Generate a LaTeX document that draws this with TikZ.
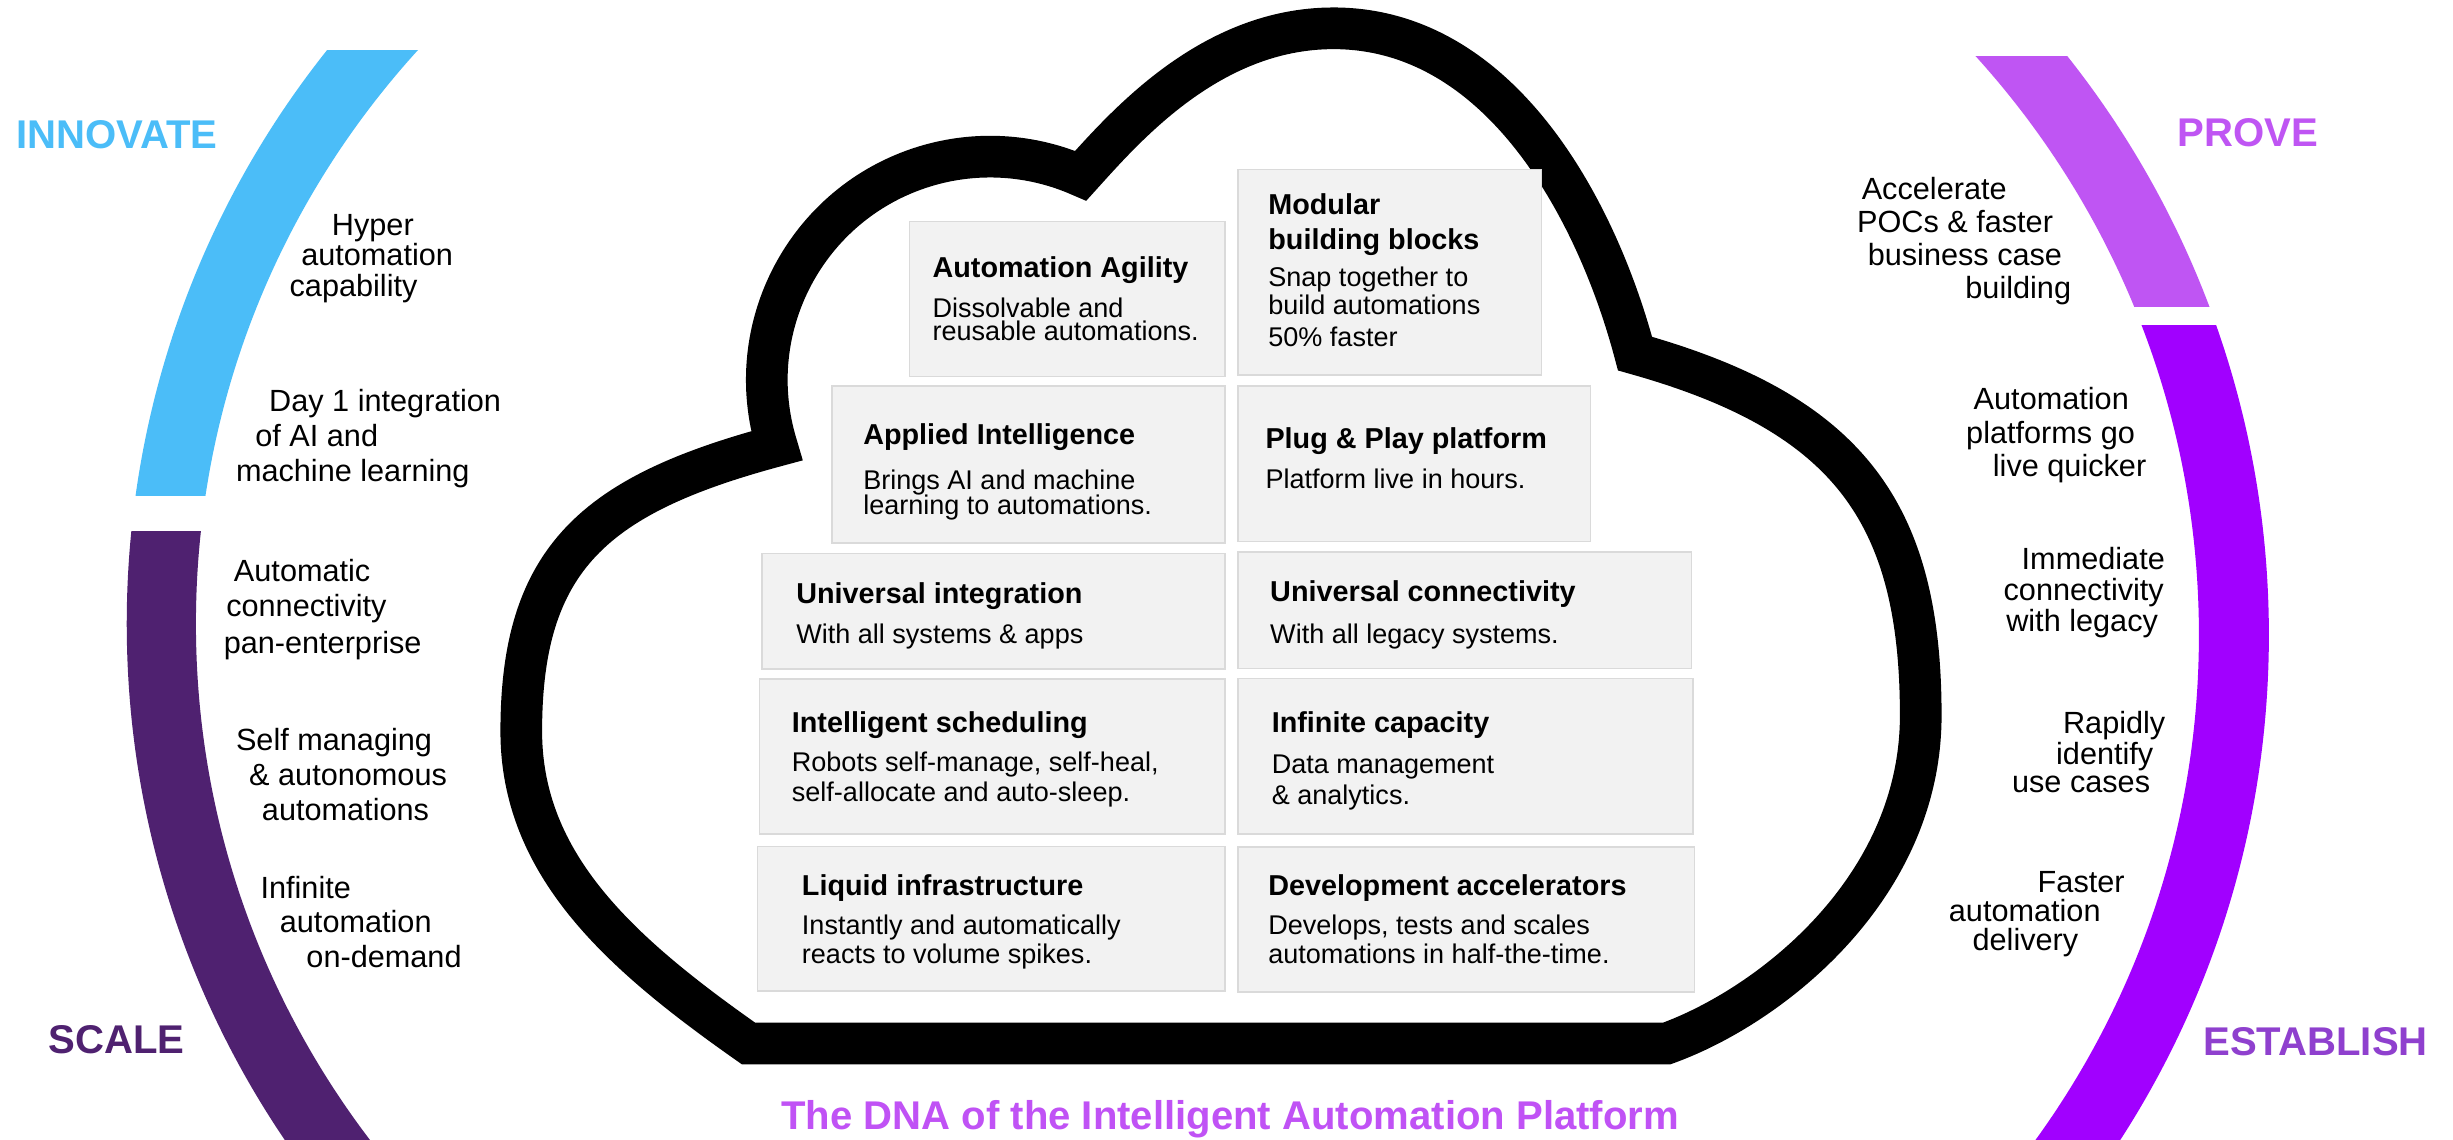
\documentclass[tikz,border=0pt]{standalone}
\usepackage{fontspec}
\setmainfont{Liberation Sans}
\definecolor{innoblue}{HTML}{4BBDF8}
\definecolor{scalepurple}{HTML}{4F2170}
\definecolor{provepurple}{HTML}{BF55F3}
\definecolor{estband}{HTML}{A100FF}
\definecolor{estlabel}{HTML}{8F40CE}
\definecolor{titlepurple}{HTML}{C052F5}
\definecolor{cardfill}{HTML}{F2F2F2}
\definecolor{cardline}{HTML}{DADADA}
\tikzset{
  sidetxt/.style={anchor=base west, inner sep=0pt, font=\fontsize{19.5}{22}\selectfont},
  boxtitle/.style={anchor=base west, inner sep=0pt, font=\bfseries\fontsize{18.3}{20}\selectfont},
  boxbody/.style={anchor=base west, inner sep=0pt, font=\fontsize{17.2}{19}\selectfont},
  stage/.style={anchor=base west, inner sep=0pt, font=\bfseries\fontsize{25.5}{28}\selectfont},
  card/.style={draw=cardline, fill=cardfill, line width=1pt, anchor=north west, inner sep=0pt},
  cloudline/.style={draw=black, line width=26.5pt, line join=miter, miter limit=10},
}
\begin{document}
\begin{tikzpicture}[x=1pt,y=-1pt]
\useasboundingbox (0,0) rectangle (1560,724.36);
\fill[white] (0,0) rectangle (1560,724.36);

% ---- rings ----
\begin{scope}
  \clip (0,32.4) rectangle (420,315);
  \fill[innoblue, even odd rule] (666.6,396.7) circle[radius=586] (666.6,396.7) circle[radius=542];
\end{scope}
\begin{scope}
  \clip (0,338) rectangle (420,724.36);
  \fill[scalepurple, even odd rule] (666.6,396.7) circle[radius=586] (666.6,396.7) circle[radius=542];
\end{scope}
\begin{scope}
  \clip (1100,36) rectangle (1560,195);
  \fill[provepurple, even odd rule] (850.4,403.8) circle[radius=592.5] (850.4,403.8) circle[radius=548];
\end{scope}
\begin{scope}
  \clip (1100,207) rectangle (1560,724.36);
  \fill[estband, even odd rule] (850.4,403.8) circle[radius=592.5] (850.4,403.8) circle[radius=548];
\end{scope}

% ---- cloud ----
\coordinate (kl) at (476,663.6);
\coordinate (kr) at (1060,663.6);
\draw[cloudline] (kl)
  .. controls (394,606) and (331.5,550) .. (331.5,465)
  .. controls (331.5,355) and (378.1,314.6) .. (494,283.5)
  arc[start angle=162.84, end angle=293.93, radius=142]
  .. controls (716,80) and (770,18) .. (848,18)
  .. controls (955,18) and (1016,135) .. (1039.8,224.9)
  .. controls (1174.6,262.7) and (1221.5,325) .. (1221.5,455)
  .. controls (1221.5,565) and (1125.8,639.8) .. (kr)
  -- cycle;

% ---- cards ----
\node[card, minimum width=200.4pt, minimum height=98.6pt] (cA1) at (578,140.3) {};
\node[card, minimum width=249.7pt, minimum height=99.7pt] (cA2) at (528.7,245) {};
\node[card, minimum width=294.4pt, minimum height=73.4pt] (cA3) at (484,351.4) {};
\node[card, minimum width=296pt, minimum height=98.6pt] (cA4) at (482.4,431.4) {};
\node[card, minimum width=297.2pt, minimum height=92pt] (cA5) at (481.2,537.8) {};
\node[card, minimum width=192.9pt, minimum height=130.7pt] (cB1) at (786.8,107.3) {};
\node[card, minimum width=224.2pt, minimum height=99pt] (cB2) at (786.8,245) {};
\node[card, minimum width=288.5pt, minimum height=74pt] (cB3) at (786.8,350.5) {};
\node[card, minimum width=289.2pt, minimum height=99pt] (cB4) at (786.8,431) {};
\node[card, minimum width=290.2pt, minimum height=92.4pt] (cB5) at (786.8,538) {};

% ---- card texts ----
\node[boxtitle] (tA1) at (592.9,176.3) {Automation Agility};
\node[boxbody] (bA1a) at (592.9,201.9) {Dissolvable and};
\node[boxbody] (bA1b) at (592.9,216.7) {reusable automations.};

\node[boxtitle] (tA2) at (548.8,283) {Applied Intelligence};
\node[boxbody] (bA2a) at (548.8,311.3) {Brings AI and machine};
\node[boxbody] (bA2b) at (548.8,327.4) {learning to automations.};

\node[boxtitle] (tA3) at (506.2,383.8) {Universal integration};
\node[boxbody] (bA3a) at (506.2,409.4) {With all systems \& apps};

\node[boxtitle] (tA4) at (503.4,465.7) {Intelligent scheduling};
\node[boxbody] (bA4a) at (503.4,490.7) {Robots self-manage, self-heal,};
\node[boxbody] (bA4b) at (503.4,509.6) {self-allocate and auto-sleep.};

\node[boxtitle] (tA5) at (509.8,569.6) {Liquid infrastructure};
\node[boxbody] (bA5a) at (509.8,594) {Instantly and automatically};
\node[boxbody] (bA5b) at (509.8,613) {reacts to volume spikes.};

\node[boxtitle] (tB1a) at (806.4,136.6) {Modular};
\node[boxtitle] (tB1b) at (806.4,158.8) {building blocks};
\node[boxbody] (bB1a) at (806.4,182.5) {Snap together to};
\node[boxbody] (bB1b) at (806.4,199.7) {build automations};
\node[boxbody] (bB1c) at (806.4,220.4) {50\% faster};

\node[boxtitle] (tB2) at (804.6,285.1) {Plug \& Play platform};
\node[boxbody] (bB2a) at (804.6,310.7) {Platform live in hours.};

\node[boxtitle] (tB3) at (807.6,382.5) {Universal connectivity};
\node[boxbody] (bB3a) at (807.6,409.5) {With all legacy systems.};

\node[boxtitle] (tB4) at (808.6,466) {Infinite capacity};
\node[boxbody] (bB4a) at (808.6,491.8) {Data management};
\node[boxbody] (bB4b) at (808.6,511.9) {\& analytics.};

\node[boxtitle] (tB5) at (806.4,569.4) {Development accelerators};
\node[boxbody] (bB5a) at (806.4,594.6) {Develops, tests and scales};
\node[boxbody] (bB5b) at (806.4,612.6) {automations in half-the-time.};

% ---- side texts ----
\foreach \px/\py/\tx [count=\i] in {
  210.9/149.9/Hyper, 191.4/168.9/automation, 184/188.4/capability,
  171/262/Day 1 integration, 162.2/283.9/of AI and, 149.9/306.5/machine learning,
  148.6/370.1/Automatic, 143.7/392.3/connectivity, 142.1/415.5/pan-enterprise,
  149.9/477.6/Self managing, 158.3/499.8/\& autonomous, 166.4/521.8/automations,
  165.5/571.5/Infinite, 177.8/593/automation, 194.7/615/on-demand}
  \node[sidetxt] (left\i) at (\px,\py) {\tx};

\foreach \px/\py/\tx [count=\i] in {
  1183.8/126.6/Accelerate, 1180.8/148/POCs \& faster, 1187.6/169.1/business case, 1249.7/189.8/building,
  1255/260.4/Automation, 1250.2/281.8/platforms go, 1267.2/303/live quicker,
  1285.5/362/Immediate, 1274/381.7/connectivity, 1275.7/401.9/with legacy,
  1311.8/466.4/Rapidly, 1307.4/486.4/identify, 1279.4/503.9/use cases,
  1295.7/567.9/Faster, 1239.2/586.2/automation, 1254.3/604.4/delivery}
  \node[sidetxt] (right\i) at (\px,\py) {\tx};

% ---- stage labels ----
\node[stage, text=innoblue] (innovate) at (10,94.5) {INNOVATE};
\node[stage, text=provepurple] (prove) at (1384.8,93.2) {PROVE};
\node[stage, text=scalepurple] (scale) at (30.8,669.9) {SCALE};
\node[stage, text=estlabel] (establish) at (1401.1,671.3) {ESTABLISH};

% ---- title ----
\node[anchor=base, inner sep=0pt, font=\bfseries\fontsize{25.5}{28}\selectfont, text=titlepurple] (title) at (782.3,718) {The DNA of the Intelligent Automation Platform};
\end{tikzpicture}
\end{document}
